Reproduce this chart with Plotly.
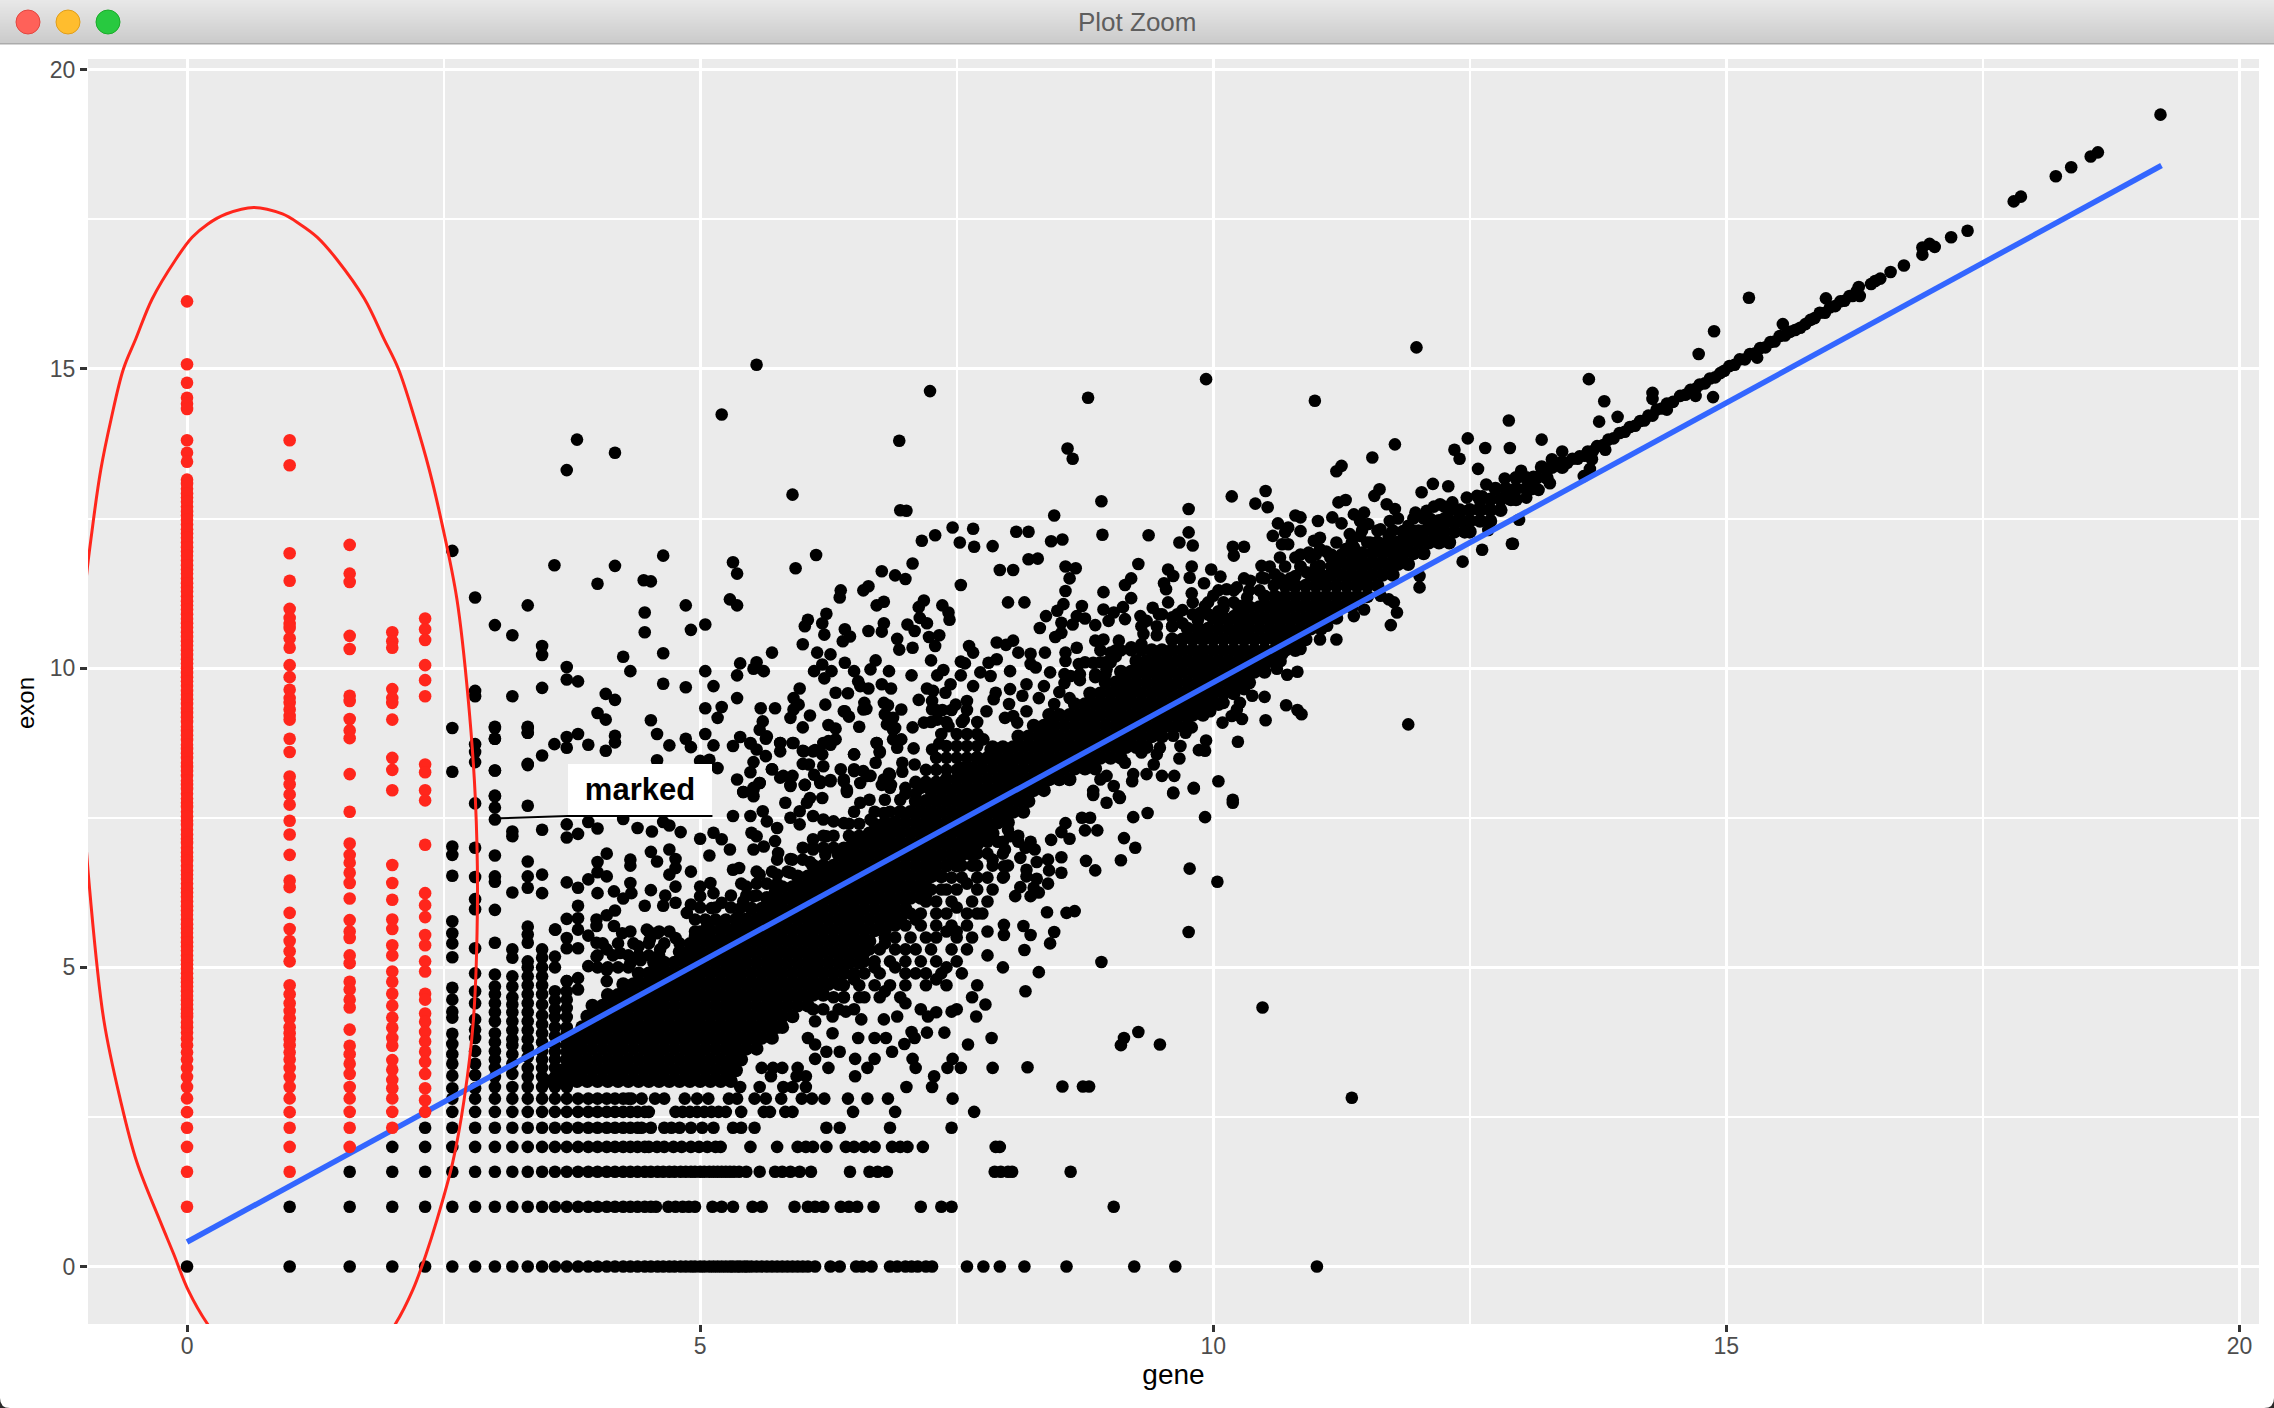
import plotly.graph_objects as go

# ---------- red columns: gene value -> exon values ----------
red_x_levels = [0, 0, 1, 1.585, 2, 2.32]
red_y_0 = [16.13,15.08,14.77,14.52,14.42,14.33,13.81,13.6,13.45,13.15,13.0,12.85,12.7,12.55,12.4,12.25,12.1,11.95,11.8,11.65,11.5,11.35,11.2,11.05,10.9,10.75,10.6,10.45,10.3,10.15,10.0,9.85,9.7,9.55,9.4,9.25,9.1,8.95,8.8,8.65,8.5,8.35,8.2,8.05,7.9,7.75,7.6,7.45,7.3,7.15,7.0,6.85,6.7,6.55,6.4,6.25,6.1,5.95,5.8,5.65,5.5,5.35,5.2,5.05,4.9,4.75,4.6,4.45,4.3,4.17,4.0,3.91,3.81,3.7,3.58,3.46,3.32,3.17,3.0,2.81,2.58,2.32,2.0,1.585,1.0]
red_y_0b = [13.08,12.92,12.78,12.62,12.48,12.32,12.18,12.02,11.88,11.72,11.58,11.42,11.28,11.12,10.98,10.82,10.68,10.52,10.38,10.22,10.08,9.92,9.78,9.62,9.48,9.32,9.18,9.02,8.88,8.72,8.58,8.42,8.28,8.12,7.98,7.82,7.68,7.52,7.38,7.22,7.08,6.92,6.78,6.62,6.48,6.32,6.18,6.02,5.88,5.72,5.58,5.42,5.28,5.12,4.98,4.82,4.68,4.52,4.38,4.23,4.08]
red_y_1 = [13.81,13.39,11.92,11.46,10.99,10.84,10.74,10.67,10.5,10.34,10.05,9.85,9.64,9.5,9.42,9.31,9.2,9.14,8.82,8.6,8.19,8.06,7.89,7.72,7.45,7.22,6.88,6.45,6.34,5.91,5.64,5.44,5.27,5.1,4.7,4.55,4.4,4.27,4.15,4.0,3.9,3.8,3.7,3.58,3.46,3.32,3.17,3.0,2.81,2.58,2.32,2.0,1.585]
red_y_1585 = [12.06,11.58,11.44,10.54,10.32,9.54,9.45,9.15,8.96,8.83,8.23,7.6,7.07,6.88,6.75,6.58,6.41,6.15,5.79,5.6,5.49,5.2,5.07,4.76,4.63,4.46,4.33,3.96,3.69,3.55,3.39,3.22,3.0,2.81,2.585,2.32,2.0]
red_y_2 = [10.6,10.45,10.34,9.65,9.5,9.42,9.14,8.5,8.3,7.96,6.71,6.41,6.13,5.8,5.64,5.37,5.2,4.93,4.76,4.56,4.36,4.16,3.99,3.82,3.69,3.45,3.29,3.12,2.98,2.81,2.585,2.32]
red_y_232 = [10.83,10.65,10.47,10.05,9.8,9.53,8.39,8.26,7.96,7.79,7.05,6.24,6.04,5.84,5.54,5.37,5.1,4.93,4.56,4.46,4.23,4.09,3.92,3.76,3.59,3.42,3.22,2.98,2.78,2.585]

# ---------- black lattice columns (gene, list of exon) ----------
col_x = [2.585, 2.807, 3.0, 3.17, 3.32, 3.46, 3.585, 3.7]
col_y = [
 [11.96,9.0,8.27,7.02,6.88,6.53,5.77,5.57,5.4,5.17,4.66,4.46,4.26,4.16,3.89,3.72,3.55,3.39,3.19,2.98],
 [11.18,9.62,9.53,8.73,8.6,8.43,7.74,7.0,6.51,6.14,5.97,5.32,4.9,4.6,4.4,4.13,3.96,3.82,3.6,3.39,3.2,2.98],
 [9.0,8.82,8.29,7.86,7.67,7.47,6.87,6.52,6.43,5.96,5.41,4.88,4.68,4.55,4.4,4.25,4.1,3.9,3.75,3.6,3.46,3.32,3.17,3.0],
 [7.27,7.19,6.25,5.3,5.16,4.85,4.68,4.5,4.38,4.25,4.1,3.95,3.8,3.7,3.55,3.39,3.22,3.0],
 [9.0,8.92,8.38,7.7,6.77,6.52,6.33,5.68,5.55,5.41,5.1,5.0,4.85,4.7,4.55,4.4,4.25,4.1,3.95,3.8,3.65,3.5,3.32,3.17,3.0],
 [7.3,6.55,6.24,5.3,5.16,5.0,4.85,4.7,4.55,4.38,4.2,4.05,3.9,3.75,3.6,3.46,3.32,3.17,3.0],
 [5.63,5.18,5.0,4.6,4.45,4.3,4.17,4.0,3.85,3.7,3.585,3.46,3.32,3.17,3.0],
 [4.77,4.6,4.46,4.32,4.17,4.0,3.9,3.8,3.7,3.585,3.46,3.32,3.17,3.0],
]

# ---------- black lattice rows (exon, list of gene) ----------
row_y = [0, 1, 1.585, 2, 2.32, 2.585, 2.807]
row_x = [
 [0,1,1.585,2,2.32,2.585,2.807,3,3.17,3.32,3.46,3.585,3.7,3.81,3.91,4,4.09,4.17,4.25,4.32,4.39,4.46,4.52,4.585,4.64,4.7,4.75,4.81,4.86,4.91,4.95,5,5.04,5.09,5.13,5.17,5.21,5.25,5.29,5.32,5.36,5.39,5.43,5.46,5.5,5.55,5.6,5.65,5.7,5.75,5.8,5.85,5.9,5.95,6.0,6.05,6.12,6.27,6.36,6.52,6.58,6.67,6.85,6.92,7.0,7.06,7.12,7.2,7.26,7.6,7.76,7.92,8.16,8.57,9.23,9.63,11.01],
 [1,1.585,2,2.32,2.585,2.807,3,3.17,3.32,3.46,3.585,3.7,3.81,3.91,4,4.09,4.17,4.25,4.32,4.39,4.46,4.52,4.57,4.69,4.76,4.83,4.89,4.95,5.12,5.21,5.32,5.51,5.6,5.92,6.05,6.12,6.2,6.37,6.45,6.53,6.69,7.15,7.35,7.45,9.03],
 [1.585,2,2.32,2.585,2.807,3,3.17,3.32,3.46,3.585,3.7,3.81,3.91,4,4.09,4.17,4.25,4.32,4.39,4.46,4.52,4.585,4.64,4.7,4.75,4.81,4.86,4.91,4.95,5,5.04,5.09,5.13,5.17,5.21,5.25,5.29,5.33,5.38,5.45,5.58,5.73,5.8,5.88,5.97,6.08,6.46,6.65,6.73,6.82,7.87,7.93,8.0,8.04,8.61],
 [2,2.32,2.585,2.807,3,3.17,3.32,3.46,3.585,3.7,3.81,3.91,4,4.09,4.17,4.25,4.32,4.39,4.46,4.5,4.58,4.65,4.74,4.82,4.91,4.99,5.07,5.15,5.2,5.49,5.75,5.95,6.03,6.1,6.23,6.42,6.5,6.6,6.7,6.87,6.95,7.02,7.17,7.88,7.92],
 [2.32,2.585,2.807,3,3.17,3.32,3.46,3.585,3.7,3.81,3.91,4,4.09,4.17,4.25,4.32,4.39,4.43,4.52,4.65,4.72,4.8,4.91,5.02,5.13,5.32,5.4,5.53,6.23,6.36,6.85,7.45],
 [2.585,2.807,3,3.17,3.32,3.46,3.585,3.7,3.81,3.91,4,4.09,4.17,4.25,4.32,4.39,4.46,4.5,4.76,4.83,4.9,4.97,5.04,5.11,5.18,5.25,5.4,5.62,5.68,5.83,5.9,6.49,6.9,7.67],
 [2.585,2.807,3,3.17,3.32,3.46,3.585,3.7,3.81,3.91,4,4.09,4.17,4.25,4.3,4.33,4.43,4.56,4.65,4.85,4.97,5.08,5.28,5.36,5.53,5.64,5.79,5.99,6.09,6.21,6.44,6.63,6.83,7.46],
]

# ---------- dense band, estimated where points overplot (exon, list of gene) ----------
band_y = [3.1,3.28,3.46,3.64,3.82,4.0,4.18,4.36,4.54,4.72,4.9,5.08,5.26,5.44,5.62,5.8,5.98,6.16,6.34,6.52,6.7,6.88,7.06,7.24,7.42,7.6,7.78,7.96,8.14,8.32,8.5,8.68,8.86,9.04,9.22,9.4,9.58,9.76,9.94,10.12,10.3,10.48,10.66,10.84,11.02,11.2,11.38,11.56,11.74,11.92,12.1,12.28,12.46,12.64,12.82,13.0,13.18,13.36]
band_x = [
 [3.5,3.6,3.7,3.8,3.9,4.0,4.1,4.2,4.3,4.4,4.5,4.6,4.7,4.8,4.9,5.0,5.1,5.2,5.3],
 [3.65,3.75,3.85,3.95,4.05,4.15,4.25,4.35,4.45,4.55,4.65,4.75,4.85,4.95,5.05,5.15,5.25,5.35],
 [3.7,3.8,3.9,4.0,4.1,4.2,4.3,4.4,4.5,4.6,4.7,4.8,4.9,5.0,5.1,5.2,5.3,5.4],
 [3.75,3.85,3.95,4.05,4.15,4.25,4.35,4.45,4.55,4.65,4.75,4.85,4.95,5.05,5.15,5.25,5.35,5.45,5.55],
 [3.8,3.9,4.0,4.1,4.2,4.3,4.4,4.5,4.6,4.7,4.8,4.9,5.0,5.1,5.2,5.3,5.4,5.5,5.6,5.7],
 [3.85,3.95,4.05,4.15,4.25,4.35,4.45,4.55,4.65,4.75,4.85,4.95,5.05,5.15,5.25,5.35,5.45,5.55,5.65,5.75,5.8],
 [3.9,4.0,4.1,4.2,4.3,4.4,4.5,4.6,4.7,4.8,4.9,5.0,5.1,5.2,5.3,5.4,5.5,5.6,5.7,5.8,5.9],
 [3.95,4.05,4.15,4.25,4.35,4.45,4.55,4.65,4.75,4.85,4.95,5.05,5.15,5.25,5.35,5.45,5.55,5.65,5.75,5.85,5.95,6.05],
 [4.1,4.2,4.3,4.4,4.5,4.6,4.7,4.8,4.9,5.0,5.1,5.2,5.3,5.4,5.5,5.6,5.7,5.8,5.9,6.0,6.1,6.2],
 [4.25,4.35,4.45,4.55,4.65,4.75,4.85,4.95,5.05,5.15,5.25,5.35,5.45,5.55,5.65,5.75,5.85,5.95,6.05,6.15,6.25,6.35],
 [4.4,4.5,4.6,4.7,4.8,4.9,5.0,5.1,5.2,5.3,5.4,5.5,5.6,5.7,5.8,5.9,6.0,6.1,6.2,6.3,6.4],
 [4.55,4.65,4.75,4.85,4.95,5.05,5.15,5.25,5.35,5.45,5.55,5.65,5.75,5.85,5.95,6.05,6.15,6.25,6.35,6.45,6.55],
 [4.8,4.9,5.0,5.1,5.2,5.3,5.4,5.5,5.6,5.7,5.8,5.9,6.0,6.1,6.2,6.3,6.4,6.5,6.6],
 [4.95,5.05,5.15,5.25,5.35,5.45,5.55,5.65,5.75,5.85,5.95,6.05,6.15,6.25,6.35,6.45,6.55,6.65],
 [5.1,5.2,5.3,5.4,5.5,5.6,5.7,5.8,5.9,6.0,6.1,6.2,6.3,6.4,6.5,6.6,6.7,6.8],
 [5.35,5.45,5.55,5.65,5.75,5.85,5.95,6.05,6.15,6.25,6.35,6.45,6.55,6.65,6.75,6.85,6.95],
 [5.5,5.6,5.7,5.8,5.9,6.0,6.1,6.2,6.3,6.4,6.5,6.6,6.7,6.8,6.9,7.0],
 [5.65,5.75,5.85,5.95,6.05,6.15,6.25,6.35,6.45,6.55,6.65,6.75,6.85,6.95,7.05,7.15],
 [5.8,5.9,6.0,6.1,6.2,6.3,6.4,6.5,6.6,6.7,6.8,6.9,7.0,7.1,7.2],
 [5.95,6.05,6.15,6.25,6.35,6.45,6.55,6.65,6.75,6.85,6.95,7.05,7.15,7.25,7.35],
 [6.1,6.2,6.3,6.4,6.5,6.6,6.7,6.8,6.9,7.0,7.1,7.2,7.3,7.4,7.5],
 [6.35,6.45,6.55,6.65,6.75,6.85,6.95,7.05,7.15,7.25,7.35,7.45,7.55,7.65],
 [6.5,6.6,6.7,6.8,6.9,7.0,7.1,7.2,7.3,7.4,7.5,7.6,7.7],
 [6.65,6.75,6.85,6.95,7.05,7.15,7.25,7.35,7.45,7.55,7.65,7.75,7.85],
 [6.8,6.9,7.0,7.1,7.2,7.3,7.4,7.5,7.6,7.7,7.8,7.9,8.0],
 [6.95,7.05,7.15,7.25,7.35,7.45,7.55,7.65,7.75,7.85,7.95,8.05,8.15],
 [7.1,7.2,7.3,7.4,7.5,7.6,7.7,7.8,7.9,8.0,8.1,8.2],
 [7.25,7.35,7.45,7.55,7.65,7.75,7.85,7.95,8.05,8.15,8.25,8.35],
 [7.4,7.5,7.6,7.7,7.8,7.9,8.0,8.1,8.2,8.3,8.4,8.5,8.6],
 [7.55,7.65,7.75,7.85,7.95,8.05,8.15,8.25,8.35,8.45,8.55,8.65,8.75,8.85],
 [7.7,7.8,7.9,8.0,8.1,8.2,8.3,8.4,8.5,8.6,8.7,8.8,8.9,9.0,9.1],
 [7.85,7.95,8.05,8.15,8.25,8.35,8.45,8.55,8.65,8.75,8.85,8.95,9.05,9.15,9.25,9.35],
 [8.1,8.2,8.3,8.4,8.5,8.6,8.7,8.8,8.9,9.0,9.1,9.2,9.3,9.4,9.5],
 [8.25,8.35,8.45,8.55,8.65,8.75,8.85,8.95,9.05,9.15,9.25,9.35,9.45,9.55,9.65,9.75],
 [8.4,8.5,8.6,8.7,8.8,8.9,9.0,9.1,9.2,9.3,9.4,9.5,9.6,9.7,9.8,9.9],
 [8.65,8.75,8.85,8.95,9.05,9.15,9.25,9.35,9.45,9.55,9.65,9.75,9.85,9.95,10.05],
 [8.8,8.9,9.0,9.1,9.2,9.3,9.4,9.5,9.6,9.7,9.8,9.9,10.0,10.1,10.2],
 [8.95,9.05,9.15,9.25,9.35,9.45,9.55,9.65,9.75,9.85,9.95,10.05,10.15,10.25,10.35],
 [9.1,9.2,9.3,9.4,9.5,9.6,9.7,9.8,9.9,10.0,10.1,10.2,10.3,10.4,10.5],
 [9.25,9.35,9.45,9.55,9.65,9.75,9.85,9.95,10.05,10.15,10.25,10.35,10.45,10.55,10.65],
 [9.4,9.5,9.6,9.7,9.8,9.9,10.0,10.1,10.2,10.3,10.4,10.5,10.6,10.7,10.8],
 [9.6,9.7,9.8,9.9,10.0,10.1,10.2,10.3,10.4,10.5,10.6,10.7,10.8,10.9],
 [9.75,9.85,9.95,10.05,10.15,10.25,10.35,10.45,10.55,10.65,10.75,10.85,10.95,11.05],
 [10.0,10.1,10.2,10.3,10.4,10.5,10.6,10.7,10.8,10.9,11.0,11.1,11.2],
 [10.25,10.35,10.45,10.55,10.65,10.75,10.85,10.95,11.05,11.15,11.25,11.35],
 [10.5,10.6,10.7,10.8,10.9,11.0,11.1,11.2,11.3,11.4,11.5],
 [10.7,10.8,10.9,11.0,11.1,11.2,11.3,11.4,11.5,11.6],
 [10.95,11.05,11.15,11.25,11.35,11.45,11.55,11.65,11.75],
 [11.2,11.3,11.4,11.5,11.6,11.7,11.8,11.9],
 [11.35,11.45,11.55,11.65,11.75,11.85,11.95,12.05],
 [11.6,11.7,11.8,11.9,12.0,12.1,12.2,12.3],
 [11.85,11.95,12.05,12.15,12.25,12.35,12.45,12.5],
 [12.1,12.2,12.3,12.4,12.5,12.6,12.7],
 [12.3,12.4,12.5,12.6,12.7,12.8],
 [12.6,12.7,12.8,12.9,12.95],
 [12.75,12.85,12.95,13.05,13.1],
 [12.95,13.05,13.15,13.25],
 [13.2,13.3,13.4],
]

# ---------- scattered shoulders of the band (exon, list of gene) ----------
shoulder_y = [5.0,5.2,5.4,5.6,5.8,6.0,6.2,6.4,6.6,6.8,7.0,7.2,7.4,7.6,7.8,8.0,4.3,4.5,4.7,4.9,5.1,5.3,5.5,5.7,5.9,6.1,6.3,6.5,6.7,6.9,7.1,10.7,10.9,11.1,11.3,11.5,11.7,11.9,12.1,12.3,12.5,12.7,10.3,10.1,9.9]
shoulder_x = [
 [4.0,4.1,4.2,4.3],[4.0,4.15,4.3,4.4,4.5,4.6],[4.05,4.2,4.35,4.5,4.65,4.8,4.9],[4.5,4.6,4.7,4.95,5.0,5.05],[4.95,5.05,5.15,5.25],
 [5.0,5.15,5.3,5.4],[5.3,5.45,5.55],[5.4,5.55,5.65,5.75],[5.55,5.7,5.85],[5.75,5.9,6.0],[6.0,6.1,6.2,6.3,6.4],[6.2,6.3,6.45,6.55],
 [6.45,6.55,6.7],[6.5,6.7,6.85],[6.65,6.8,6.95],[6.85,7.0,7.15],
 [6.1,6.2,6.35,6.5],[6.3,6.4,6.55,6.75,6.95],[6.4,6.55,6.7,6.85,7.0,7.2,7.4],[6.5,6.6,6.75,7.0,7.2,7.35],[6.6,6.7,6.85,7.0,7.15,7.3,7.5],
 [6.65,6.75,6.9,7.1,7.25,7.45],[6.8,6.9,7.05,7.3,7.5,7.65],[6.9,7.0,7.15,7.3,7.45,7.6],[7.05,7.15,7.4,7.6,7.75],[7.2,7.3,7.45,7.65,7.8],
 [7.25,7.35,7.5,7.7,7.85],[7.45,7.55,7.7,7.95],[7.55,7.7,7.85,8.0],[7.7,7.8,7.95],[7.8,7.95,8.1],
 [9.3,9.45,9.6],[9.5,9.65,9.8,9.95],[9.8,9.95,10.1,10.2],[10.05,10.2,10.35,10.45],[10.3,10.5,10.65,10.75],[10.55,10.7,10.85,11.0,11.15],
 [10.85,11.0,11.15,11.25],[11.2,11.35,11.5],[11.45,11.6,11.75],[11.8,11.95,12.05],[12.15,12.25],
 [8.9,9.05,9.2,9.3],[8.75,8.9,9.0],[8.55,8.7,8.85,8.95],
]

# ---------- thin ridge and top end ----------
ridge_x = [13.4,13.5,13.57,13.65,13.74,13.85,13.96,14.06,14.16,14.24,14.32,14.42,14.55,14.65,14.74,14.84,14.94,15.03,15.13,15.23,15.33,15.43,15.52,15.62,15.72,15.82,15.91,16.01,16.11,16.2,16.27,16.41,16.45,16.5,16.6,16.73,16.91,16.91,16.98,17.03,17.19,17.35,17.8,17.87,18.21,18.36,18.55,18.62,19.23]
ridge_y = [13.45,13.5,13.54,13.62,13.71,13.82,13.93,14.03,14.13,14.22,14.32,14.42,14.55,14.65,14.74,14.84,14.93,15.05,15.16,15.25,15.35,15.45,15.55,15.62,15.69,15.82,15.94,16.03,16.13,16.22,16.3,16.42,16.47,16.51,16.62,16.73,17.03,16.91,17.09,17.04,17.2,17.31,17.8,17.88,18.22,18.37,18.55,18.62,19.25]
ridge2_x = [13.45,13.55,13.62,13.7,13.8,13.9,14.01,14.11,14.2,14.28,14.37,14.48,14.6,14.7,14.79,14.89,14.98,15.08,15.18,15.28,15.38,15.47,15.57,15.67,15.77,15.86,15.96,16.06,16.15,16.23]
ridge2_y = [13.43,13.5,13.55,13.63,13.73,13.84,13.95,14.05,14.14,14.22,14.34,14.45,14.57,14.67,14.76,14.86,14.97,15.07,15.16,15.26,15.36,15.46,15.56,15.65,15.75,15.85,15.94,16.05,16.14,16.22]

# ---------- individually readable points ----------
cloud_x = [5.55,7.24,5.21,6.94,3.8,4.17,3.7,5.9,6.95,7.01,7.46,7.66,7.29,7.16,7.53,7.67,4.64,6.13,3.58,4.17,5.93,5.32,5.36,7.07,6.77,6.9,7.0,4.45,4.52,4.0,7.54,6.64,6.59,6.37,6.36,5.29,5.36,3.32,4.86,4.46,7.18,7.13,7.36,6.79,6.72,7.42,7.43,6.23,6.05,6.02,6.19,6.21,3.0,5.05,3.17,4.46,4.91,7.14,7.21,7.02,7.09,6.79,6.77,6.64,6.41,6.46,6.39,3.46,3.46,6.92,6.94,7.07,7.23,7.33,7.29,6.0,5.7,4.64,4.25,6.14,6.27,7.62,7.66,3.7,4.32,5.39,5.55,5.52,5.62,5.05,6.19,6.11,6.28,6.21,6.41,6.71,6.66,6.84,6.5,7.25,7.54,7.58,7.37,7.31,7.06,7.54,3.7,3.81,5.36,4.64,3.46,4.86,5.13,3.17,5.97,6.54,6.56,6.64,6.77,6.86,4.08,4.17,5.36,5.91,5.96,6.32,6.44,6.22,6.6,6.62,6.79,6.83,7.13,7.21,7.27,7.26,7.39,7.44,7.49,7.6,7.66,5.05,5.21,5.59,5.73,5.17,4.0,4.08,4.52,5.91,5.88,6.07,6.41,6.45,6.96,6.8,6.88,6.82,6.9,7.26,7.36,7.57,7.31,7.18,7.07,7.42,3.0,3.32,3.32,3.0,5.61,5.58,6.0,6.25,6.32,6.55,3.81,3.7,4.17,4.17,3.58,3.91,3.7,4.58,4.86,4.91,4.7,5.05,5.13,5.39,5.32,5.49,5.55,5.64,5.78,5.78,5.9,3.46,4.08,3.32,3.0,3.0,4.58,5.0,5.09,5.17,5.64,5.52,5.49,5.7,5.36,5.58,5.52,5.42,5.81,5.9,5.88,6.02,6.0,6.0,6.06,6.12,6.19,6.25,6.32,6.27,6.5,6.72,6.75,6.71,6.88,6.96,6.92,7.08,6.97,6.97,7.09,6.84,6.77,6.86,7.1,7.33,7.26,6.37,6.5,6.59,6.66,6.2,6.11,6.17,6.27,6.4,6.43,6.56]
cloud_y = [15.07,14.63,14.24,13.8,13.82,13.6,13.31,12.9,12.64,12.63,12.35,12.33,12.22,12.13,12.1,12.03,11.88,11.89,11.72,11.71,11.67,11.77,11.58,11.75,11.62,11.55,11.49,11.47,11.45,11.41,11.39,11.37,11.3,11.3,11.18,11.15,11.05,11.05,11.05,10.93,11.13,11.02,11.05,11.11,11.05,10.93,10.81,10.91,10.81,10.7,10.75,10.56,10.72,10.73,10.55,10.6,10.64,10.84,10.75,10.73,10.62,10.75,10.61,10.62,10.65,10.53,10.45,10.37,10.22,10.49,10.31,10.34,10.52,10.55,10.37,10.4,10.26,10.25,10.19,10.26,10.23,10.37,10.26,10.02,9.95,10.08,10.1,9.99,9.95,9.95,10.06,9.95,9.95,9.83,10.09,10.13,9.98,9.95,9.95,10.13,10.11,10.08,9.97,9.88,9.88,9.88,9.81,9.78,9.88,9.74,9.67,9.68,9.7,9.53,9.66,9.78,9.7,9.66,9.73,9.66,9.57,9.47,9.5,9.5,9.39,9.59,9.58,9.39,9.42,9.32,9.42,9.38,9.47,9.66,9.62,9.45,9.59,9.73,9.39,9.45,9.7,9.33,9.35,9.33,9.33,9.17,9.25,9.14,9.13,9.31,9.17,9.21,9.28,9.19,9.31,9.23,9.17,9.06,9.0,9.31,9.3,9.14,9.14,9.09,9.01,9.03,9.02,9.02,8.92,8.82,9.11,8.97,9.01,9.05,8.99,9.02,8.9,8.85,8.87,8.76,8.73,8.72,8.67,8.9,8.82,8.68,8.71,8.9,8.71,8.85,8.7,8.74,8.64,8.82,8.75,8.61,8.75,8.54,8.62,8.4,8.29,7.87,8.46,8.45,8.47,8.33,8.53,8.43,8.26,8.31,8.14,8.08,8.0,7.93,8.2,8.2,8.05,8.05,8.62,8.4,8.39,8.63,8.56,8.78,8.81,8.72,8.56,8.75,8.61,8.42,8.81,8.81,8.67,8.66,8.42,8.27,8.39,8.24,8.05,8.05,8.08,8.74,8.64,8.31,8.28,8.28,8.2,8.36,8.22,8.08,8.13,8.11,7.93,8.08]

low_x = [3.7,3.91,4.0,3.7,3.81,4.25,4.39,4.53,4.64,4.7,4.81,4.09,4.0,4.0,4.09,3.91,3.7,3.81,4.0,4.32,4.32,4.52,4.58,4.7,4.76,4.76,4.7,4.91,4.16,4.25,4.32,4.33,4.52,4.76,4.66,4.64,4.46,3.81,4.17,4.09,3.99,4.76,4.87,4.91,3.7,3.81,3.81,3.59,3.7,3.7,3.81,3.91,3.99,4.16,4.24,4.32,4.48,4.58,4.76,4.4,3.99,3.99,4.09,4.22,4.32,4.42,4.51,4.61,4.84,3.91,4.09,3.7,3.81,3.81,4.09,5.0,4.95,5.07,5.0,5.1,5.13,5.21,5.11,5.37,5.49,5.2,5.29,5.32,5.38,5.45,5.58,5.75,5.88,5.73,5.73,5.42,5.52,5.65,5.91,6.06,6.14,6.07,5.09,5.0,5.13,5.21,5.29,5.32,5.49,5.61,5.65,5.75,5.73,5.5,5.55,5.52,5.62,5.76,5.88,5.88,5.97,5.97,6.1,6.1,6.1,6.22,6.3,6.38,6.46,6.67,6.75,6.23,6.4,6.3,6.2,6.66,5.42,5.52,5.52,5.58,5.7,5.78,5.88,6.02,6.17,6.27,5.83,6.07,6.19,6.04,6.56,6.43,6.4,6.5,6.63,6.79,6.85,6.72,6.75,6.5,6.88,6.59,6.4,5.91,5.78,6.01,6.1,6.2,5.65,5.49,6.79,6.66]
low_y = [7.39,7.43,7.32,7.17,7.23,7.48,7.33,7.27,7.43,7.37,7.26,6.9,6.76,6.59,6.52,6.47,6.42,6.33,6.24,6.8,6.7,6.93,6.77,6.97,6.81,6.66,6.55,6.6,6.27,6.15,6.41,6.24,6.29,6.35,6.2,6.03,6.03,6.03,5.95,5.87,5.8,6.08,5.91,6.05,5.81,5.82,5.63,5.63,5.49,5.32,5.32,5.53,5.69,5.69,5.57,5.6,5.63,5.57,5.49,5.35,5.41,5.18,5.3,5.24,5.07,5.12,5.46,5.3,5.24,5.02,4.96,4.77,4.82,4.63,4.77,6.19,5.52,5.69,6.35,6.41,6.24,6.08,5.99,5.85,5.74,5.74,5.63,6.63,6.66,6.35,6.55,6.55,6.58,6.27,6.13,6.1,6.19,5.91,6.19,6.44,6.58,6.76,6.87,7.15,7.25,7.14,6.97,7.53,7.53,7.61,7.44,7.33,7.11,7.25,7.19,6.97,7.02,6.91,6.81,7.5,7.39,7.61,7.53,7.14,6.97,6.88,6.69,6.88,7.02,7.14,7.14,7.19,7.41,7.44,7.47,7.25,7.93,7.86,7.97,8.08,8.31,8.17,8.03,8.05,8.11,8.11,7.75,7.83,7.83,7.75,7.75,7.97,8.14,8.31,8.2,8.14,8.22,8.75,8.59,8.56,8.97,9.31,9.28,8.75,8.75,8.61,8.61,8.75,8.86,8.75,7.58,7.47]

right_x = [6.51,7.01,7.26,7.28,7.41,7.54,7.85,7.46,7.07,7.1,6.63,6.51,6.7,6.25,6.12,5.8,5.6,5.71,5.69,5.95,6.03,5.94,6.03,5.81,5.9,5.58,5.39,6.23,6.36,6.87,6.12,6.05,6.29,6.54,6.7,6.81,6.99,7.09,7.06,7.21,7.38,7.61,7.84,7.22,7.45,7.69,6.92,6.79,6.57,6.42,6.29,6.12,7.78,6.6,6.8,7.0,7.15,7.3,7.5,7.65,7.7,7.55,7.4,7.3,7.1,6.9,6.7,6.6,6.8,7.0,7.2,7.4,7.1,7.3,7.5,7.7,7.8,7.6,7.8,7.95,7.5,6.5,6.4,7.2,7.4,7.6,7.8,7.65,7.85,7.5,7.9,8.0,8.1,7.7,7.8,10.48,9.27,9.13,9.1,9.48,8.19,8.53,8.73,8.79,8.91,8.3,8.17,9.76,10.04,9.77,8.16,8.41,8.45,8.22,8.15,7.96,7.96,8.38,8.57,8.65,10.19,9.92,9.81,9.61,9.36,9.22,9.13,9.24,9.1,8.76,8.85,8.87,8.75,8.8,8.72,9.09,8.96,8.83,8.56,8.6,8.42,8.52,8.52,8.39,8.4,8.52,8.39,8.3,8.22,8.07,8.12,8.25,8.28,8.18,8.18,8.28,8.12,8.26,8.17,8.22,7.96,7.96,7.97,8.02,11.35]
right_y = [3.18,3.0,3.0,3.18,3.32,3.32,3.32,3.47,3.47,3.32,3.32,3.47,3.47,3.32,3.47,3.32,3.32,3.32,3.18,3.32,3.18,3.18,3.0,3.0,3.0,3.0,3.0,3.59,3.59,3.59,3.71,3.82,3.9,3.82,3.82,3.82,3.72,3.82,3.92,3.91,3.91,3.71,3.82,4.18,4.26,4.18,4.18,4.13,4.13,4.26,4.18,4.1,4.38,4.5,4.6,4.4,4.3,4.25,4.3,4.5,4.7,4.9,5.0,4.8,4.9,5.0,5.0,5.3,5.4,5.3,5.5,5.6,5.8,5.9,6.0,5.9,5.6,5.3,5.2,5.0,5.6,4.8,4.5,6.2,6.3,6.4,6.5,6.7,6.8,6.8,7.1,7.3,7.2,7.2,7.4,4.33,3.92,3.82,3.7,3.71,3.33,3.01,3.01,3.01,5.09,4.92,4.6,5.59,6.43,6.65,5.29,5.4,5.59,5.54,5.69,5.71,5.54,5.92,5.91,5.94,7.75,7.51,7.99,7.91,7.58,7.51,7.16,7.0,6.79,6.78,6.62,7.29,7.29,7.5,7.5,7.83,7.75,7.88,7.41,7.15,7.13,7.26,6.84,6.8,6.62,6.58,6.4,6.25,6.19,6.19,6.34,6.33,6.48,6.52,6.63,6.76,6.83,6.97,7.0,7.1,6.69,6.52,6.97,7.19,2.82]

upper_x = [8.78,9.93,11.98,10.99,8.58,8.63,11.77,12.48,12.35,12.4,11.55,11.25,11.2,8.91,10.51,10.18,10.41,10.53,11.62,11.57,11.29,11.22,11.69,12.14,12.29,12.03,12.58,9.76,8.45,8.2,8.08,7.85,8.92,9.37,9.76,9.67,9.8,8.53,8.42,10.19,10.3,10.2,8.29,8.2,7.92,8.05,8.56,8.66,8.6,8.56,9.27,9.56,9.61,9.79,9.77,9.98,10.07,9.91,9.52,9.54,9.2,9.14,8.93,9.79,9.2,10.0,8.0,8.16,8.54,8.72,8.37,8.31,8.48,8.52,8.67,8.75,8.63,8.46,8.52,9.12,8.93,9.03,8.98,8.85,9.14,9.41,9.29,9.35,9.47,9.56,9.7,9.6,9.87,9.92,7.89,7.98,8.05,8.1,8.22,8.36,7.89,7.81,8.22,8.27,8.02,7.73,7.83,8.41,8.56,8.56,8.67,8.83,8.69,9.0,8.96,8.85,8.93,9.32,9.08,8.18,8.02,8.14,7.88,7.86,8.01,8.18,7.79,7.97,8.35,8.61,8.05,8.09,7.83,7.89,7.76,10.63,10.73,10.8,10.85,10.85,10.7,10.58,10.67,10.73,10.65,11.02,11.16,11.25,11.37,11.47,11.43,11.51,11.33,11.43,11.77,11.72,11.9,11.97,12.08,12.12,12.21,12.33,12.47,12.57,10.98,11.04,11.04,10.93,10.8,11.29,11.37,11.63,11.53,11.71,11.84,11.14,11.04,10.8,10.91,11.11,10.47,10.47,10.6,10.36,10.23,10.13,10.59,10.78,10.33,10.2,10.26,10.85,10.95,11.1,11.2,11.35,11.6,11.75,11.9,12.0,12.15,12.25,12.4,12.5,12.6,8.5,8.6,8.45,8.3,8.55,8.7,8.85,8.95,9.05,9.1,9.2,9.3,9.45,9.6,9.7,9.85,9.95,10.1,10.05,7.3,7.45,7.6,7.25,7.4,7.55,7.7,7.35,7.5,7.6,7.7,7.4,7.5,7.6,7.7,7.3,7.4,7.5,7.6,7.7,7.2,7.3,7.4,7.5,7.6,7.1,7.2,7.3,7.0,7.1]
upper_y = [14.52,14.83,15.36,14.47,13.67,13.5,13.74,13.84,13.65,13.5,13.52,13.38,13.29,12.79,12.96,12.87,12.75,12.69,12.99,12.88,12.81,12.77,12.74,13.08,13.04,12.94,13.33,12.66,12.55,12.28,12.28,12.04,12.23,12.22,12.27,12.1,12.05,12.15,12.12,12.03,12.03,11.88,11.83,11.82,11.64,11.64,11.7,11.67,11.5,11.29,11.74,11.65,11.54,11.7,11.51,11.65,11.53,11.42,11.42,11.32,11.5,11.39,11.27,11.25,11.17,11.21,11.1,11.1,11.07,11.04,10.87,10.67,10.96,10.76,10.87,10.83,10.73,10.52,10.59,11.02,10.98,10.93,10.79,10.72,10.82,11.01,10.87,10.79,10.9,11.1,10.97,10.85,10.92,11.04,10.43,10.39,10.46,10.26,10.24,10.26,10.15,10.09,10.07,10.01,9.95,9.93,9.87,9.93,10.26,10.12,10.34,10.09,10.07,10.26,9.98,10.46,10.48,10.57,10.46,9.73,9.65,9.54,9.59,9.48,9.4,9.28,9.28,9.17,9.7,9.87,9.2,9.09,8.64,8.5,8.81,12.42,12.35,12.55,12.52,12.29,12.27,12.21,12.07,12.07,11.85,12.46,12.52,12.42,12.57,12.6,12.46,12.41,12.24,12.21,12.66,12.46,12.38,12.6,12.63,12.49,12.74,12.77,12.85,12.88,12.13,12.18,11.99,11.93,11.85,11.99,12.02,12.32,12.1,12.21,12.1,11.85,11.71,11.54,11.6,11.54,11.71,11.51,11.57,11.46,11.35,11.32,11.38,11.38,11.18,10.87,11.04,11.7,11.85,11.95,11.75,11.95,12.0,12.05,12.2,12.3,12.35,12.5,12.55,12.65,12.7,9.6,9.5,9.4,9.5,9.75,9.8,9.85,10.1,10.2,10.3,10.35,10.4,10.55,10.7,10.75,10.8,10.9,11.0,10.95,9.3,9.3,9.3,9.1,9.1,9.1,9.1,8.9,8.9,8.9,8.9,8.7,8.7,8.7,8.7,8.5,8.5,8.5,8.5,8.5,8.3,8.3,8.3,8.3,8.3,8.1,8.1,8.1,7.9,7.9]

below_x = [12.43,12.01,12.01,11.79,11.73,11.71,11.76,11.63,11.37,11.47,11.2,11.04,11.11,10.85,10.75,10.82,10.72,10.62,10.67,10.43,10.34,10.5,10.71,10.82,10.86,10.51,11.9,10.38,10.3,10.26,10.23,10.28,10.18,10.09,10.1,9.97,9.84,9.74,9.79,9.73,10.24,9.93,9.86,9.92,9.68,9.61,9.48,9.45,9.67,9.42,9.3,9.14,9.35,9.22,9.5,9.62,9.81,10.05,9.61,9.21,9.03,9.08,8.9,8.83,8.96,10.19,15.22,14.88,14.73,13.66,13.81,13.76,13.94,12.88,12.89,12.65,13.2,13.0,12.84,12.66,12.62,14.28,14.28,15.97,15.55,16.29,16.3,15.3,14.7,14.87,14.42,13.82,13.69,13.67,13.61,13.05,13.17,13.28,12.98,12.92,12.62,12.68,13.4,13.3,13.12,12.91]
below_y = [11.78,11.35,11.54,10.93,10.72,11.15,11.1,11.21,10.87,10.98,10.48,10.48,10.71,10.32,10.34,9.94,9.89,9.99,10.23,9.98,9.81,9.52,9.38,9.3,9.23,9.13,9.06,9.54,9.65,9.42,9.31,9.15,9.2,9.09,9.42,9.28,9.28,9.2,9.01,8.92,8.77,8.79,8.63,8.62,8.7,8.87,8.67,8.56,8.49,8.39,8.59,8.42,8.23,8.23,8.2,8.2,8.0,8.11,7.92,8.11,8.03,7.86,8.14,7.95,8.2,7.8,16.19,15.63,15.25,14.83,14.46,14.12,14.2,14.14,13.68,13.68,13.82,13.3,13.17,13.07,12.87,14.6,14.5,16.18,15.75,16.37,16.22,15.19,14.55,14.53,14.32,13.65,13.49,13.33,13.21,12.85,12.98,13.09,12.48,12.08,11.98,12.31,13.62,13.49,13.2,12.08]

# ---------- fit line, hand-drawn ellipse, label leader ----------
fit_x = [0, 19.24]
fit_y = [0.41, 18.4]
ellipse_x = [0.65,0.93,1.1,1.27,1.46,1.73,1.92,2.06,2.22,2.36,2.49,2.63,2.74,2.81,2.83,2.79,2.70,2.59,2.43,2.33,2.2,2.03,1.69,1.14,0.57,0.2,0.01,-0.13,-0.26,-0.49,-0.65,-0.81,-0.94,-1.01,-1.02,-1.0,-0.92,-0.84,-0.74,-0.62,-0.5,-0.34,-0.11,0.05,0.2,0.38,0.65]
ellipse_y = [17.70,17.59,17.42,17.2,16.83,16.17,15.5,15.0,14.16,13.32,12.37,11.15,9.48,7.8,6.13,4.11,2.79,1.75,0.75,0.21,-0.39,-0.96,-1.73,-2.15,-1.73,-0.96,-0.39,0.21,0.75,1.75,2.79,4.11,6.13,7.8,9.48,11.15,12.37,13.32,14.16,15.0,15.5,16.17,16.83,17.2,17.42,17.59,17.70]
leader_x = [3.05, 3.71, 5.12]
leader_y = [7.49, 7.53, 7.53]
label_x, label_y, label_text = 4.41, 7.98, "marked"
x_ticks = [0, 5, 10, 15, 20]
y_ticks = [0, 5, 10, 15, 20]

# assemble black points from the literal tables above
bx, by = [], []
for x, ys in zip(col_x, col_y):
    bx += [x] * len(ys); by += ys
for y, xs in zip(row_y, row_x):
    bx += xs; by += [y] * len(xs)
for y, xs in zip(shoulder_y, shoulder_x):
    bx += xs; by += [y] * len(xs)
for xs, ys in ((ridge_x, ridge_y), (ridge2_x, ridge2_y), (cloud_x, cloud_y), (low_x, low_y), (right_x, right_y), (upper_x, upper_y), (below_x, below_y)):
    n = min(len(xs), len(ys))
    bx += xs[:n]; by += ys[:n]

band_px, band_py = [], []
for y, xs in zip(band_y, band_x):
    band_px += xs; band_py += [y] * len(xs)

rx, ry = [], []
for x, ys in zip(red_x_levels, [red_y_0, red_y_0b, red_y_1, red_y_1585, red_y_2, red_y_232]):
    rx += [x] * len(ys); ry += ys

W, H = 2274, 1408
PL, PR, PT, PB = 88, 2259, 59, 1324
FONT = "Liberation Sans, Arial, Helvetica, sans-serif"
RED = "#FF261C"
DOT = 12.6

fig = go.Figure()
fig.add_trace(go.Scatter(x=band_px, y=band_py, mode="markers", marker=dict(color="black", size=13.8, line=dict(width=0)), hoverinfo="skip"))
fig.add_trace(go.Scatter(x=bx, y=by, mode="markers", marker=dict(color="black", size=DOT, line=dict(width=0)), hoverinfo="skip"))
fig.add_trace(go.Scatter(x=leader_x, y=leader_y, mode="lines", line=dict(color="black", width=2), hoverinfo="skip"))
fig.add_trace(go.Scatter(x=fit_x, y=fit_y, mode="lines", line=dict(color="#3366FF", width=5.5), hoverinfo="skip"))
fig.add_trace(go.Scatter(x=rx, y=ry, mode="markers", marker=dict(color=RED, size=DOT, line=dict(width=0)), hoverinfo="skip"))
fig.add_trace(go.Scatter(x=ellipse_x, y=ellipse_y, mode="lines", line=dict(color=RED, width=3, shape="spline", smoothing=1.0), hoverinfo="skip"))

def xp(px): return (px - PL) / (PR - PL)
def yp(py): return 1 - (py - PT) / (PB - PT)

shapes = []
# window title bar
bar_top, bar_bot = 0, 43
for i in range(bar_top, bar_bot):
    t = i / (bar_bot - 1)
    v = int(round(232 + (203 - 232) * t))
    shapes.append(dict(type="rect", xref="paper", yref="paper", layer="below", x0=xp(0), x1=xp(W), y0=yp(i), y1=yp(i + 1),
                       fillcolor=f"rgb({v},{v},{v})", line=dict(width=0)))
shapes.append(dict(type="rect", xref="paper", yref="paper", layer="below", x0=xp(0), x1=xp(W), y0=yp(43), y1=yp(44.5),
                   fillcolor="#ABABAB", line=dict(width=0)))
for cx, fill, edge in ((28, "#FF6159", "#E2463F"), (68, "#FFBD2E", "#E09E1A"), (108, "#28C940", "#1AAB29")):
    shapes.append(dict(type="circle", xref="paper", yref="paper", x0=xp(cx - 12), x1=xp(cx + 12), y0=yp(34), y1=yp(10),
                       fillcolor=fill, line=dict(color=edge, width=1)))
# rounded window corners at the bottom
for x_edge, x_in in ((0, 10), (W, W - 10)):
    shapes.append(dict(type="path", xref="paper", yref="paper",
                       path=f"M{xp(x_edge)},{yp(1398)} Q{xp(x_edge)},{yp(1408)} {xp(x_in)},{yp(1408)} L{xp(x_edge)},{yp(1408)} Z",
                       fillcolor="#2A2A2A", line=dict(width=0)))

fig.update_layout(
    width=W, height=H, autosize=False, showlegend=False,
    margin=dict(l=PL, r=W - PR, t=PT, b=H - PB, pad=0),
    paper_bgcolor="white", plot_bgcolor="#EBEBEB",
    font=dict(family=FONT, color="#4D4D4D", size=23),
    shapes=shapes,
    annotations=[
        dict(x=xp(1137), y=yp(22), xref="paper", yref="paper", text="Plot Zoom", showarrow=False,
             font=dict(family=FONT, size=26, color="#5E5E5E"), xanchor="center", yanchor="middle"),
        dict(x=label_x, y=label_y, xref="x", yref="y", text="<b>" + label_text + "</b>", showarrow=False,
             font=dict(family=FONT, size=31, color="black"), bgcolor="white", width=144, height=51,
             xanchor="center", yanchor="middle", borderpad=0, borderwidth=0),
        dict(x=xp(26), y=yp(703), xref="paper", yref="paper", text="exon", showarrow=False, textangle=-90,
             font=dict(family=FONT, size=24, color="black"), xanchor="center", yanchor="middle"),
    ],
    xaxis=dict(range=[-0.965, 20.19], tickmode="array", tickvals=x_ticks, ticktext=[str(v) for v in x_ticks],
               showgrid=True, gridcolor="white", gridwidth=3, zeroline=False, showline=False,
               ticks="outside", ticklen=7, tickwidth=3, tickcolor="#333333", ticklabelstandoff=-6,
               tickfont=dict(family=FONT, size=23, color="#4D4D4D"),
               minor=dict(tickmode="array", tickvals=[2.5, 7.5, 12.5, 17.5], showgrid=True, gridcolor="white", gridwidth=1.5, ticks=""),
               title=dict(text="gene", font=dict(family=FONT, size=28, color="black"), standoff=4), automargin=False),
    yaxis=dict(range=[-0.96, 20.18], tickmode="array", tickvals=y_ticks, ticktext=[str(v) for v in y_ticks],
               showgrid=True, gridcolor="white", gridwidth=3, zeroline=False, showline=False,
               ticks="outside", ticklen=7, tickwidth=3, tickcolor="#333333",
               tickfont=dict(family=FONT, size=23, color="#4D4D4D"),
               minor=dict(tickmode="array", tickvals=[2.5, 7.5, 12.5, 17.5], showgrid=True, gridcolor="white", gridwidth=1.5, ticks=""),
               automargin=False),
)

fig.write_html("out.html", config={"displayModeBar": False},
               post_script="document.body.style.margin='0';document.body.style.overflow='hidden';")
